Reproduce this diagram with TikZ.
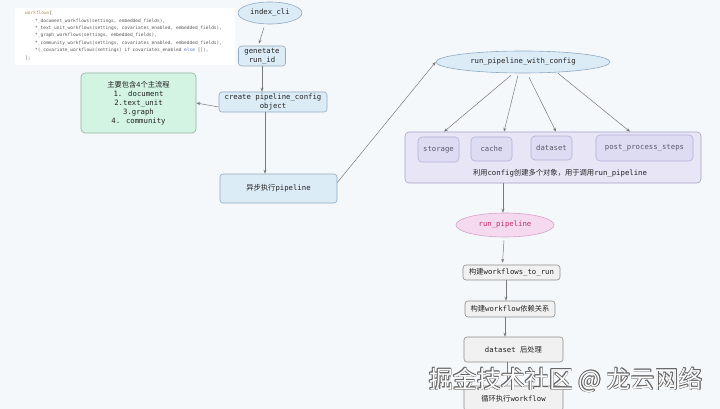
\documentclass[tikz,border=0pt]{standalone}
\usepackage{fontspec}
\setmainfont{DejaVu Sans Mono}
\setmonofont{DejaVu Sans Mono}
\newfontfamily\cjk{Noto Sans CJK SC}
\usetikzlibrary{shapes.geometric,arrows.meta,calc}
\definecolor{bgc}{HTML}{F5F8FB}
\definecolor{bluefill}{HTML}{DCECF7}
\definecolor{blueline}{HTML}{8FA9C2}
\definecolor{greenfill}{HTML}{D3F3E3}
\definecolor{greenline}{HTML}{8DB3A0}
\definecolor{lavfill}{HTML}{E7E5F6}
\definecolor{lavline}{HTML}{A6A3C6}
\definecolor{innerfill}{HTML}{DEDCF3}
\definecolor{innerline}{HTML}{B2AFD6}
\definecolor{pinkfill}{HTML}{F5D9EF}
\definecolor{pinkline}{HTML}{D6A2C6}
\definecolor{pinktext}{HTML}{C0306A}
\definecolor{grayfill}{HTML}{F1F1F1}
\definecolor{grayline}{HTML}{8C8C8C}
\definecolor{txt}{HTML}{222222}
\definecolor{codetxt}{HTML}{555555}
\definecolor{innertxt}{HTML}{5A5A6A}
\definecolor{codeorange}{HTML}{B08850}
\definecolor{codeblue}{HTML}{4A6FD0}
\definecolor{arrowc}{HTML}{7A7A7A}
\tikzset{
  lbl/.style={font=\fontsize{7.3}{9}\selectfont, text=txt, align=center, inner sep=1pt},
  bluebox/.style={lbl, draw=blueline, fill=bluefill, rounded corners=3pt, line width=0.6pt},
  blueell/.style={lbl, ellipse, draw=blueline, fill=bluefill, line width=0.6pt},
  greenbox/.style={lbl, draw=greenline, fill=greenfill, rounded corners=4pt, line width=0.6pt},
  lavbox/.style={draw=lavline, fill=lavfill, rounded corners=4pt, line width=0.6pt},
  innerbox/.style={lbl, text=innertxt, draw=innerline, fill=innerfill, rounded corners=4pt, line width=0.6pt},
  pinkell/.style={lbl, text=pinktext, ellipse, draw=pinkline, fill=pinkfill, line width=0.6pt},
  graybox/.style={lbl, draw=grayline, fill=grayfill, rounded corners=3pt, line width=0.6pt},
  arr/.style={draw=arrowc, line width=0.5pt, -{Stealth[length=4pt,width=3pt]}},
  wm/.style={font=\cjk\fontsize{24}{26}\selectfont, anchor=center, inner sep=0pt}
}
\begin{document}
\begin{tikzpicture}[x=1pt,y=-1pt]
\fill[bgc] (0,0) rectangle (720,409);
\useasboundingbox (0,0) rectangle (720,409);

% code block
\node[fill=white, minimum width=220pt, minimum height=57pt, anchor=north west, inner sep=0pt] (codebg) at (15,8) {};
\node[anchor=north west, align=left, inner sep=0pt, text=codetxt,
      font=\fontsize{4.5}{7.4}\selectfont] (code) at (25,11) {%
{\color{codeorange}workflows}[\\
\hspace*{10pt}*\_document\_workflows(settings, embedded\_fields),\\
\hspace*{10pt}*\_text\_unit\_workflows(settings, covariates\_enabled, embedded\_fields),\\
\hspace*{10pt}*\_graph\_workflows(settings, embedded\_fields),\\
\hspace*{10pt}*\_community\_workflows(settings, covariates\_enabled, embedded\_fields),\\
\hspace*{10pt}*(\_covariate\_workflows(settings) if covariates\_enabled {\color{codeblue}else} []),\\
];};

% left column
\node[blueell, minimum width=64pt, minimum height=22pt] (cli) at (270,13) {index\_cli};
\node[bluebox, minimum width=47pt, minimum height=20pt] (gen) at (262,56) {genetate\\run\_id};
\node[bluebox, minimum width=108pt, minimum height=20pt] (create) at (273,102) {create pipeline\_config\\object};
\node[greenbox, minimum width=115pt, minimum height=60pt] (green) at (138.5,103)
  {{\cjk 主要包含4个主流程}\\1. document\\2.text\_unit\\3.graph\\4. community};
\node[bluebox, minimum width=117pt, minimum height=29pt] (async) at (278.5,188.5) {{\cjk 异步执行}pipeline};

% right part
\node[blueell, minimum width=174pt, minimum height=22pt] (rpc) at (523,62) {run\_pipeline\_with\_config};
\node[lavbox, minimum width=296pt, minimum height=51pt] (big) at (553,157.5) {};
\node[innerbox, minimum width=41pt, minimum height=25pt] (storage) at (438.5,149.5) {storage};
\node[innerbox, minimum width=41pt, minimum height=24pt] (cache) at (491.5,149) {cache};
\node[innerbox, minimum width=41pt, minimum height=24pt] (dataset) at (551.5,148) {dataset};
\node[innerbox, minimum width=97pt, minimum height=26pt] (post) at (644.5,148) {post\_process\_steps};
\node[lbl] (biglabel) at (560,173) {{\cjk 利用}config{\cjk 创建多个对象，用于调用}run\_pipeline};

\node[pinkell, minimum width=98pt, minimum height=24pt] (rp) at (505,225) {run\_pipeline};
\node[graybox, minimum width=97pt, minimum height=15pt] (w1) at (511.5,272.5) {{\cjk 构建}workflows\_to\_run};
\node[graybox, minimum width=90pt, minimum height=16pt] (w2) at (510,309) {{\cjk 构建}workflow{\cjk 依赖关系}};
\node[graybox, minimum width=99pt, minimum height=25pt] (dp) at (513.5,349.5) {dataset {\cjk 后处理}};
\node[graybox, minimum width=99pt, minimum height=25pt] (loop) at (513.5,398.5) {{\cjk 循环执行}workflow};

% connectors
\draw[arr] ([xshift=-6pt,yshift=-3pt]cli.south) -- ([xshift=-3pt,yshift=2pt]gen.north);
\draw[arr] (gen.south) -- (gen.south |- create.north);
\draw[arr] ([yshift=-5pt]create.west) -- (green.east);
\draw[arr] ([xshift=-8pt]create.south) -- ([xshift=-8pt]create.south |- async.north);
\draw[arr] ([yshift=6pt]async.east) -- (rpc.west);
\draw[arr] ([xshift=-12pt,yshift=-2pt]rpc.south) -- ($(storage.center |- big.north)+(5.5,0)$);
\draw[arr] ([xshift=-5pt,yshift=-2pt]rpc.south) -- ($(cache.center |- big.north)+(12.5,0)$);
\draw[arr] ([xshift=6pt,yshift=-4pt]rpc.south) -- ($(dataset.center |- big.north)+(4.5,0)$);
\draw[arr] ([xshift=35pt]rpc.south) -- ($(post.center |- big.north)+(-14.5,0)$);
\draw[arr] ([xshift=-2pt]rp.north |- big.south) -- ([xshift=-2pt]rp.north);
\draw[arr] ([xshift=-1pt,yshift=-3pt]rp.south) -- ([xshift=-9pt,yshift=2pt]w1.north);
\draw[arr] ([xshift=-5.5pt]w1.south) -- ([xshift=-5.5pt]w1.south |- w2.north);
\draw[arr] ([xshift=-5pt]w2.south) -- ([xshift=-5pt]w2.south |- dp.north);
\draw[arr] ([xshift=-6.5pt]dp.south) -- ([xshift=-6.5pt]dp.south |- loop.north);

% watermark
\foreach \dx/\dy in {0.7/0,-0.7/0,0/0.7,0/-0.7,0.5/0.5,-0.5/0.5,0.5/-0.5,-0.5/-0.5}{
  \node[wm, text=black!60] at ($(566,380)+(\dx,\dy)$) {掘金技术社区 @ 龙云网络};
}
\node[wm, text=white] (wmark) at (566,380) {掘金技术社区 @ 龙云网络};
\end{tikzpicture}
\end{document}
